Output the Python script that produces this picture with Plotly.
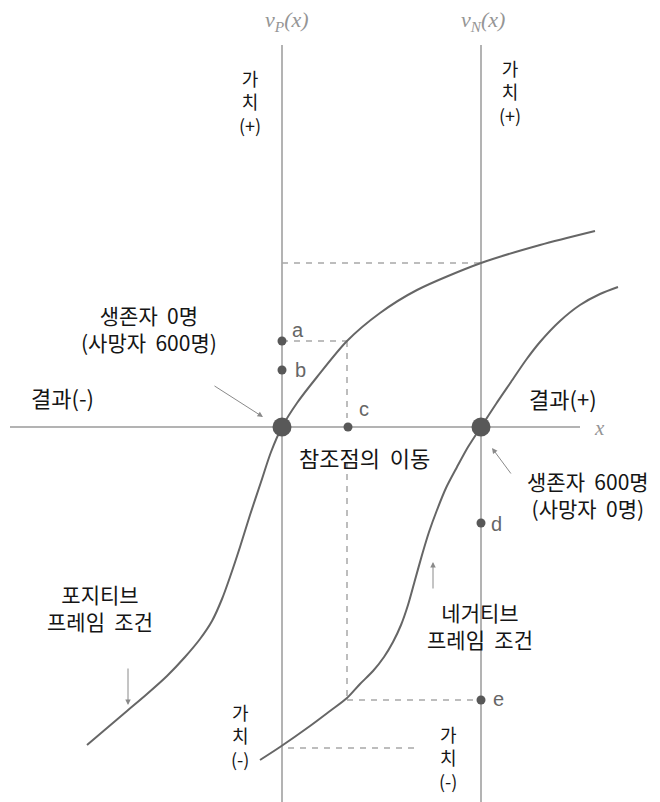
import plotly.graph_objects as go

# ---- data (diagram units: origin = reference point of v_P) ----
pos_curve_x = [-195, -175, -155, -135, -115, -97, -82, -70, -60, -52, -42, -32, -21, -11, 0,
               15, 35, 65, 98, 135, 199, 258, 313]
pos_curve_y = [-318, -301, -284, -267, -249, -230, -212, -194, -172, -150, -120, -88, -55, -25, 0,
               24, 50, 86, 114, 137, 164, 182, 196]
neg_curve_x = [-22, -2, 28, 48, 65, 78, 91, 102, 111, 119, 126, 133, 140, 147, 155, 164, 175, 186, 199,
               214, 229, 244, 258, 278, 298, 318, 336]
neg_curve_y = [-333, -320, -299, -284, -271, -257, -244, -230, -215, -198, -178, -153, -128, -105, -83,
               -61, -40, -20, 0, 23, 45, 67, 85, 106, 122, 133, 140]

ref_points_x = [0, 199]
ref_points_y = [0, 0]
small_labels = ["a", "b", "c", "d", "e"]
small_x = [0, 0, 66, 199, 199]
small_y = [86, 57, 0, -96, -273]

axis_P_x = [0, 0]
axis_P_y = [382, -390]
axis_N_x = [199, 199]
axis_N_y = [382, -390]
axis_h_x = [-272, 298]
axis_h_y = [0, 0]

dash_lines = [
    ([0, 199], [164, 164]),
    ([0, 65], [86, 86]),
    ([65, 65], [86, 9]),
    ([65, 65], [-35, -273]),
    ([65, 199], [-273, -273]),
    ([6, 138], [-321, -321]),
]

AX = "#9a9a9a"
CV = "#666666"
DOT = "#585858"
KR = "Noto Sans CJK KR"

fig = go.Figure()

for xs, ys in [(axis_P_x, axis_P_y), (axis_N_x, axis_N_y), (axis_h_x, axis_h_y)]:
    fig.add_trace(go.Scatter(x=xs, y=ys, mode="lines", line=dict(color=AX, width=1.5),
                             hoverinfo="skip", showlegend=False))

for xs, ys in dash_lines:
    fig.add_trace(go.Scatter(x=xs, y=ys, mode="lines", line=dict(color="#a8a8a8", width=1.5, dash="6px,6px"),
                             hoverinfo="skip", showlegend=False))

fig.add_trace(go.Scatter(x=pos_curve_x, y=pos_curve_y, mode="lines",
                         line=dict(color=CV, width=2, shape="spline", smoothing=0.8),
                         hoverinfo="skip", showlegend=False))
fig.add_trace(go.Scatter(x=neg_curve_x, y=neg_curve_y, mode="lines",
                         line=dict(color=CV, width=2, shape="spline", smoothing=0.8),
                         hoverinfo="skip", showlegend=False))

fig.add_trace(go.Scatter(x=small_x, y=small_y, mode="markers",
                         marker=dict(color=DOT, size=9), hoverinfo="skip", showlegend=False))
fig.add_trace(go.Scatter(x=ref_points_x, y=ref_points_y, mode="markers",
                         marker=dict(color=DOT, size=19), hoverinfo="skip", showlegend=False))

ann = []

def txt(x, y, s, size=22, color="#151515", family=KR, xanchor="center"):
    ann.append(dict(x=x, y=y, text=s, showarrow=False, xanchor=xanchor, yanchor="middle",
                    font=dict(size=size, color=color, family=family)))

# small point labels
lab_off = [(16, 97), (18, 57), (82, 18), (214, -97), (216, -272)]
for (lx, ly), s in zip(lab_off, small_labels):
    txt(lx, ly, s, size=20, color="#666666", family="Liberation Sans")

# axis titles
txt(5, 406, "<i>v<sub>P</sub>(x)</i>", size=22, color="#959595", family="Liberation Serif")
txt(201, 406, "<i>v<sub>N</sub>(x)</i>", size=22, color="#959595", family="Liberation Serif")
txt(317, -1, "<i>x</i>", size=21, color="#959595", family="Liberation Serif")

# value labels
txt(-32, 326, "가<br>치<br>(+)", size=18)
txt(228, 336, "가<br>치<br>(+)", size=18)
txt(-42, -308, "가<br>치<br>(-)", size=18)
txt(166, -330, "가<br>치<br>(-)", size=18)

txt(-133, 99, "생존자  0명<br>(사망자  600명)", size=21)
txt(-220, 30, "결과(-)")
txt(281, 29, "결과(+)")
txt(82, -30, "참조점의  이동")
txt(306, -67, "생존자  600명<br>(사망자  0명)", size=21)
txt(-182, -180, "포지티브<br>프레임  조건", size=21)
txt(198, -198, "네거티브<br>프레임  조건", size=21)

# arrows
for (hx, hy, tx, ty) in [(-19, 10, -69, 42), (210, -21, 230, -48), (151, -135, 151, -163), (-154, -278, -154, -240)]:
    ann.append(dict(x=hx, y=hy, ax=tx, ay=ty, xref="x", yref="y", axref="x", ayref="y",
                    showarrow=True, arrowhead=2, arrowsize=1.1, arrowwidth=1, arrowcolor="#8a8a8a",
                    text="", font=dict(size=1)))

# page body has an 8px margin: shift ranges so the diagram sits where the reference has it
fig.update_layout(
    width=660, height=802,
    margin=dict(l=0, r=0, t=0, b=0),
    paper_bgcolor="white", plot_bgcolor="white",
    xaxis=dict(range=[-274, 386], visible=False, fixedrange=True),
    yaxis=dict(range=[-383, 419], visible=False, fixedrange=True),
    annotations=ann,
)

fig.write_html("out.html")
